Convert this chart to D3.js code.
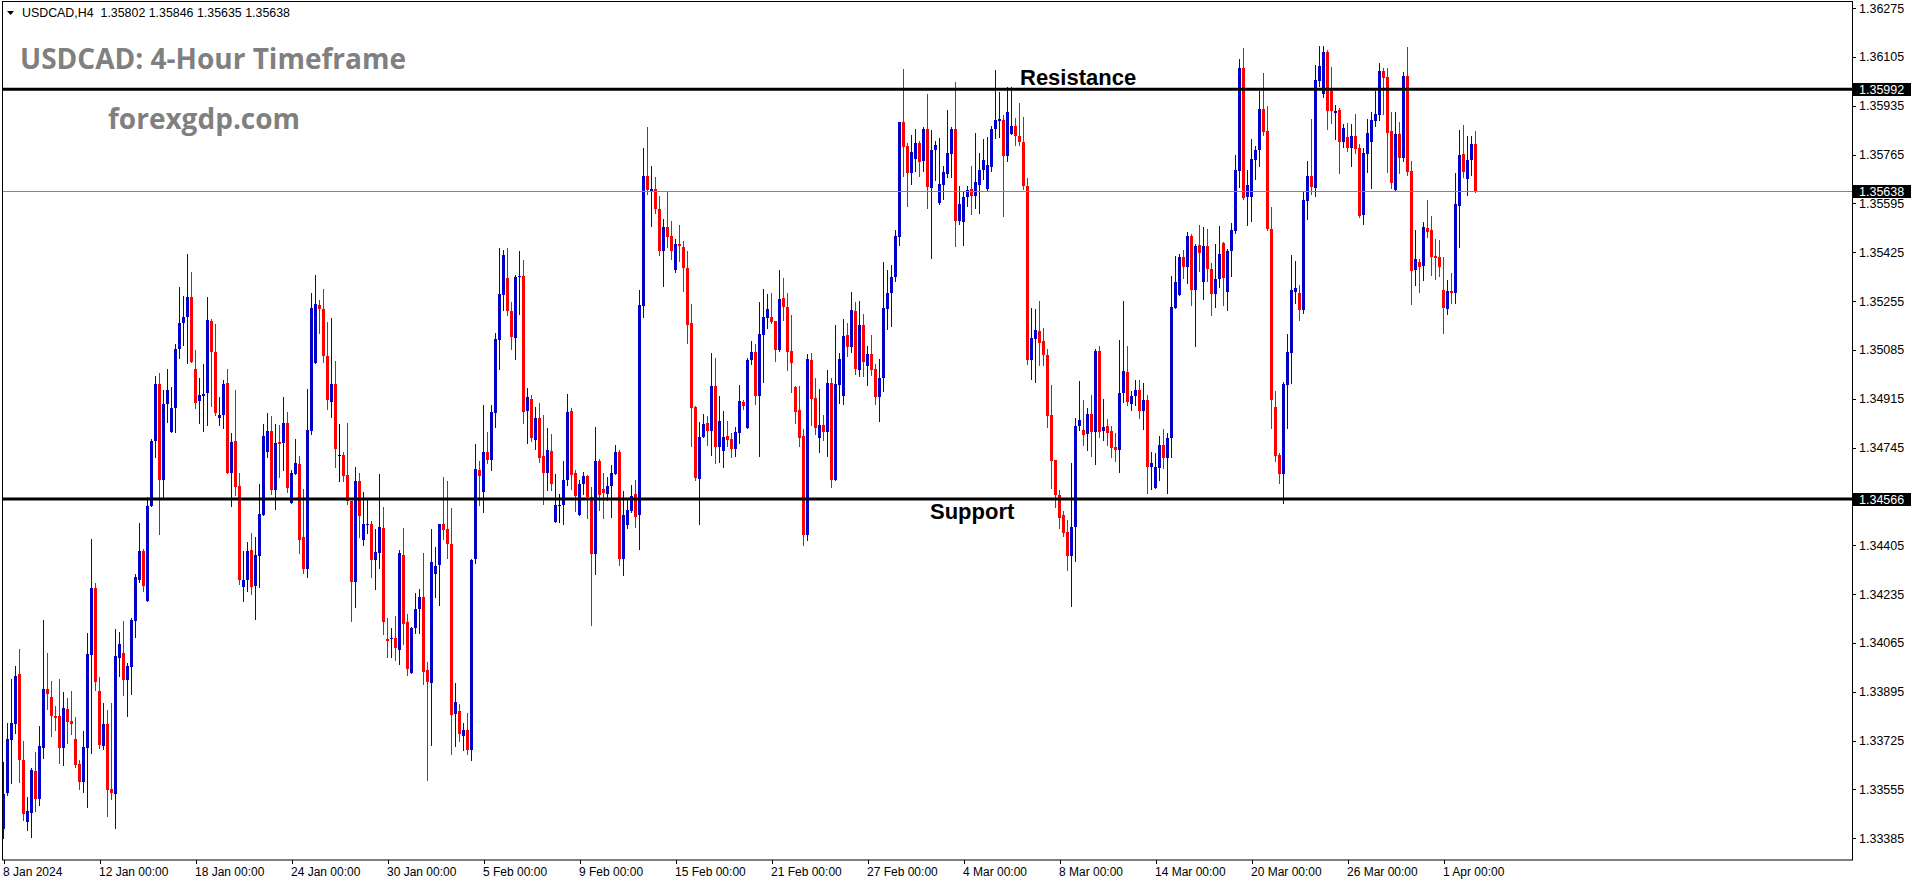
<!DOCTYPE html>
<html><head><meta charset="utf-8">
<script src="https://cdn.jsdelivr.net/npm/d3@7/dist/d3.min.js"></script>
<style>
body{margin:0;background:#fff;}
svg{display:block;}
</style>
</head><body>
<svg id="chart" width="1916" height="884"></svg>
<script>
// ---------------- data ----------------
const symbolHeader = "USDCAD,H4";
const lastQuote = [1.35802, 1.35846, 1.35635, 1.35638];
const chartTitle = "USDCAD: 4-Hour Timeframe";
const siteName = "forexgdp.com";
const resistanceLevel = 1.35992;
const supportLevel = 1.34566;
const currentPrice = 1.35638;

const opens = [1.33417,1.33543,1.33727,1.33783,1.33957,1.33657,1.33442,1.33473,1.33619,1.33522,1.33699,1.33905,1.33877,1.33811,1.33811,1.33699,1.33835,1.33793,1.33731,1.33644,1.33581,1.33699,1.34023,1.34256,1.33898,1.33706,1.33783,1.33557,1.33539,1.34012,1.34030,1.33936,1.33981,1.34141,1.34284,1.34385,1.34211,1.34542,1.34768,1.34966,1.34632,1.34897,1.34799,1.34883,1.35088,1.35179,1.35200,1.35269,1.35019,1.34907,1.34925,1.34935,1.35186,1.35078,1.34848,1.34858,1.34970,1.34657,1.34768,1.34611,1.34260,1.34284,1.34388,1.34263,1.34368,1.34510,1.34730,1.34803,1.34597,1.34764,1.34761,1.34831,1.34552,1.34653,1.34688,1.34434,1.34322,1.34803,1.35039,1.35241,1.35227,1.35064,1.34904,1.34966,1.34719,1.34719,1.34650,1.34559,1.34277,1.34629,1.34423,1.34476,1.34479,1.34354,1.34378,1.34465,1.34079,1.34079,1.34082,1.34040,1.34371,1.34138,1.33960,1.34117,1.34183,1.34225,1.33971,1.33926,1.34305,1.34336,1.34479,1.34462,1.34409,1.33818,1.33828,1.33741,1.33762,1.33692,1.34357,1.34667,1.34590,1.34730,1.34702,1.34865,1.35120,1.35276,1.35335,1.35220,1.35126,1.35339,1.35342,1.34872,1.34914,1.34771,1.34848,1.34716,1.34657,1.34733,1.34486,1.34545,1.34545,1.34632,1.34872,1.34657,1.34510,1.34618,1.34646,1.34573,1.34375,1.34698,1.34601,1.34583,1.34611,1.34653,1.34730,1.34357,1.34476,1.34524,1.34583,1.34510,1.35238,1.35690,1.35638,1.35645,1.35576,1.35429,1.35513,1.35482,1.35363,1.35454,1.35443,1.35370,1.35179,1.34886,1.34636,1.34782,1.34831,1.34803,1.34959,1.34747,1.34733,1.34785,1.34775,1.34740,1.34796,1.34904,1.34813,1.35050,1.35078,1.34925,1.35137,1.35196,1.35200,1.35186,1.35085,1.35266,1.35234,1.35081,1.34956,1.34876,1.34785,1.34441,1.35050,1.34918,1.34778,1.34824,1.34799,1.34970,1.34632,1.34963,1.34925,1.35137,1.35095,1.35220,1.35015,1.35172,1.35029,1.35071,1.35019,1.34921,1.34987,1.35227,1.35283,1.35339,1.35478,1.35878,1.35795,1.35701,1.35750,1.35805,1.35743,1.35854,1.35649,1.35781,1.35596,1.35659,1.35697,1.35767,1.35854,1.35534,1.35530,1.35617,1.35645,1.35621,1.35659,1.35711,1.35645,1.35722,1.35854,1.35882,1.35885,1.35760,1.35837,1.35864,1.35830,1.35809,1.35656,1.35050,1.35123,1.35151,1.35116,1.35067,1.34858,1.34702,1.34580,1.34510,1.34451,1.34368,1.34469,1.34820,1.34806,1.34792,1.34862,1.34799,1.35081,1.34803,1.34820,1.34803,1.34747,1.34737,1.34935,1.35008,1.34897,1.34925,1.34945,1.34872,1.34911,1.34677,1.34604,1.34674,1.34754,1.34709,1.34778,1.35231,1.35276,1.35408,1.35374,1.35482,1.35294,1.35450,1.35321,1.35447,1.35367,1.35280,1.35332,1.35457,1.35287,1.35429,1.35499,1.35708,1.36066,1.35617,1.35617,1.35746,1.35781,1.35924,1.35847,1.35506,1.34886,1.34719,1.34653,1.34963,1.35074,1.35287,1.35283,1.35224,1.35603,1.35690,1.35649,1.36021,1.35976,1.36122,1.35986,1.35910,1.35920,1.35809,1.35826,1.35788,1.35830,1.35788,1.35555,1.35767,1.35809,1.35882,1.35903,1.36056,1.36035,1.35847,1.35642,1.35837,1.35753,1.36038,1.35708,1.35363,1.35391,1.35377,1.35509,1.35502,1.35412,1.35408,1.35294,1.35227,1.35290,1.35283,1.35586,1.35767,1.35680,1.35746,1.35802];

const highs = [1.33650,1.33786,1.33939,1.33985,1.34044,1.33724,1.33529,1.33630,1.33685,1.33776,1.34145,1.34030,1.33932,1.33845,1.33939,1.33894,1.33873,1.33898,1.33807,1.33657,1.33758,1.34100,1.34427,1.34274,1.33946,1.33856,1.33832,1.33856,1.34113,1.34103,1.34141,1.33995,1.34152,1.34305,1.34482,1.34392,1.34573,1.34775,1.34994,1.35005,1.34945,1.35019,1.34956,1.35106,1.35304,1.35273,1.35419,1.35356,1.35085,1.34987,1.35036,1.35269,1.35193,1.35175,1.34921,1.34980,1.35019,1.34796,1.34945,1.34657,1.34385,1.34416,1.34448,1.34434,1.34618,1.34827,1.34865,1.34855,1.34827,1.34824,1.34921,1.34869,1.34667,1.34775,1.34716,1.34601,1.34949,1.35283,1.35346,1.35259,1.35297,1.35182,1.35196,1.35046,1.34827,1.34730,1.34831,1.34559,1.34677,1.34657,1.34590,1.34563,1.34489,1.34462,1.34653,1.34538,1.34152,1.34117,1.34159,1.34388,1.34465,1.34166,1.34120,1.34239,1.34253,1.34378,1.33999,1.34462,1.34399,1.34479,1.34643,1.34629,1.34535,1.33926,1.33852,1.33786,1.33821,1.34357,1.34757,1.34698,1.34893,1.34799,1.34893,1.35144,1.35440,1.35433,1.35440,1.35252,1.35346,1.35429,1.35398,1.34952,1.34928,1.34886,1.34900,1.34858,1.34813,1.34792,1.34653,1.34583,1.34698,1.34932,1.34883,1.34667,1.34632,1.34660,1.34650,1.34608,1.34817,1.34705,1.34657,1.34643,1.34684,1.34754,1.34737,1.34594,1.34563,1.34615,1.34632,1.35294,1.35788,1.35861,1.35725,1.35687,1.35621,1.35541,1.35635,1.35534,1.35471,1.35520,1.35464,1.35429,1.35245,1.34890,1.34834,1.34862,1.34855,1.35074,1.35057,1.34925,1.34872,1.34838,1.34796,1.34817,1.34963,1.34911,1.35057,1.35116,1.35106,1.35252,1.35297,1.35280,1.35283,1.35186,1.35363,1.35335,1.35283,1.35206,1.34959,1.34959,1.34810,1.35071,1.35074,1.34987,1.34949,1.34858,1.35015,1.34987,1.35172,1.35074,1.35193,1.35179,1.35287,1.35252,1.35255,1.35210,1.35099,1.35137,1.35036,1.35053,1.35391,1.35363,1.35381,1.35502,1.35878,1.36063,1.35805,1.35833,1.35854,1.35812,1.35861,1.35976,1.35851,1.35812,1.35823,1.35725,1.35920,1.35861,1.36018,1.35656,1.35638,1.35656,1.35725,1.35840,1.35770,1.35819,1.35826,1.35864,1.36059,1.35983,1.35903,1.36000,1.36000,1.35892,1.35945,1.35896,1.35683,1.35231,1.35227,1.35255,1.35161,1.35088,1.34963,1.34702,1.34597,1.34524,1.34493,1.34691,1.34848,1.34977,1.34911,1.34883,1.34928,1.35088,1.35099,1.34914,1.34845,1.34820,1.34796,1.35120,1.35255,1.35099,1.34942,1.34980,1.34980,1.34970,1.34928,1.34730,1.34726,1.34785,1.34810,1.34796,1.35342,1.35412,1.35419,1.35433,1.35495,1.35488,1.35454,1.35520,1.35513,1.35506,1.35388,1.35454,1.35516,1.35461,1.35436,1.35527,1.35763,1.36098,1.36136,1.35711,1.35819,1.35795,1.35986,1.36049,1.35934,1.35582,1.34942,1.34726,1.34973,1.35140,1.35415,1.35395,1.35311,1.35638,1.35743,1.35889,1.36077,1.36143,1.36143,1.36129,1.36070,1.35938,1.35927,1.35871,1.35875,1.35871,1.35906,1.35802,1.35788,1.35889,1.35913,1.35986,1.36084,1.36066,1.36066,1.35913,1.35913,1.35878,1.36052,1.36139,1.35743,1.35502,1.35401,1.35530,1.35607,1.35551,1.35471,1.35468,1.35408,1.35328,1.35353,1.35701,1.35851,1.35868,1.35830,1.35830,1.35846];

const lows = [1.33386,1.33536,1.33577,1.33751,1.33581,1.33449,1.33414,1.33389,1.33480,1.33501,1.33664,1.33835,1.33741,1.33762,1.33647,1.33640,1.33717,1.33748,1.33633,1.33557,1.33546,1.33494,1.33682,1.33901,1.33699,1.33696,1.33462,1.33522,1.33421,1.33950,1.33884,1.33811,1.33887,1.34086,1.34277,1.34246,1.34211,1.34542,1.34712,1.34444,1.34566,1.34834,1.34799,1.34799,1.35057,1.35102,1.35039,1.35043,1.34883,1.34831,1.34803,1.34824,1.34890,1.34858,1.34824,1.34813,1.34657,1.34542,1.34580,1.34270,1.34211,1.34246,1.34235,1.34148,1.34260,1.34510,1.34712,1.34583,1.34531,1.34643,1.34667,1.34590,1.34552,1.34653,1.34378,1.34308,1.34295,1.34792,1.35039,1.35144,1.35043,1.34879,1.34851,1.34677,1.34629,1.34629,1.34549,1.34141,1.34190,1.34434,1.34406,1.34448,1.34295,1.34253,1.34326,1.34096,1.34016,1.34016,1.34006,1.33992,1.34061,1.33953,1.33960,1.34100,1.34100,1.33922,1.33588,1.33710,1.34225,1.34197,1.34427,1.34361,1.33678,1.33706,1.33724,1.33692,1.33678,1.33657,1.34343,1.34545,1.34521,1.34691,1.34667,1.34817,1.35019,1.35224,1.35206,1.35088,1.35053,1.35210,1.34831,1.34761,1.34768,1.34740,1.34695,1.34549,1.34597,1.34597,1.34486,1.34486,1.34479,1.34615,1.34601,1.34524,1.34510,1.34583,1.34500,1.34127,1.34305,1.34528,1.34500,1.34563,1.34503,1.34653,1.34336,1.34301,1.34465,1.34521,1.34469,1.34392,1.35200,1.35628,1.35516,1.35562,1.35415,1.35307,1.35443,1.35401,1.35356,1.35395,1.35290,1.35109,1.34751,1.34632,1.34479,1.34782,1.34754,1.34719,1.34691,1.34695,1.34677,1.34751,1.34712,1.34716,1.34761,1.34879,1.34813,1.35036,1.34897,1.34716,1.34973,1.35161,1.35179,1.35046,1.35081,1.35189,1.35015,1.34938,1.34831,1.34751,1.34406,1.34423,1.34824,1.34792,1.34730,1.34771,1.34716,1.34608,1.34632,1.34900,1.34897,1.35064,1.35078,1.35001,1.34994,1.34994,1.34963,1.34998,1.34897,1.34838,1.34942,1.35158,1.35168,1.35325,1.35450,1.35690,1.35586,1.35663,1.35708,1.35690,1.35708,1.35579,1.35405,1.35676,1.35593,1.35610,1.35687,1.35687,1.35447,1.35523,1.35450,1.35586,1.35558,1.35579,1.35562,1.35680,1.35642,1.35708,1.35823,1.35826,1.35551,1.35743,1.35837,1.35798,1.35798,1.35645,1.35036,1.34984,1.34973,1.35032,1.35032,1.34817,1.34604,1.34538,1.34465,1.34437,1.34319,1.34194,1.34350,1.34806,1.34754,1.34737,1.34716,1.34688,1.34782,1.34771,1.34754,1.34712,1.34698,1.34660,1.34904,1.34893,1.34876,1.34893,1.34848,1.34810,1.34587,1.34601,1.34604,1.34632,1.34674,1.34587,1.34712,1.35231,1.35276,1.35335,1.35318,1.35241,1.35099,1.35360,1.35262,1.35325,1.35206,1.35234,1.35304,1.35241,1.35224,1.35342,1.35492,1.35652,1.35610,1.35520,1.35534,1.35680,1.35725,1.35833,1.35502,1.34813,1.34698,1.34622,1.34552,1.34813,1.34970,1.35248,1.35189,1.35213,1.35541,1.35628,1.35621,1.36004,1.35965,1.35854,1.35875,1.35819,1.35701,1.35791,1.35777,1.35725,1.35770,1.35548,1.35523,1.35704,1.35649,1.35864,1.35885,1.35906,1.35704,1.35649,1.35642,1.35701,1.35743,1.35694,1.35245,1.35311,1.35287,1.35328,1.35478,1.35346,1.35332,1.35342,1.35144,1.35210,1.35248,1.35248,1.35443,1.35687,1.35624,1.35694,1.35635];

const closes = [1.33539,1.33731,1.33786,1.33950,1.33657,1.33470,1.33480,1.33623,1.33522,1.33706,1.33905,1.33887,1.33811,1.33804,1.33699,1.33839,1.33790,1.33783,1.33640,1.33581,1.33703,1.34026,1.34256,1.33929,1.33710,1.33783,1.33553,1.33543,1.34020,1.34061,1.33936,1.33985,1.34145,1.34295,1.34385,1.34263,1.34542,1.34768,1.34966,1.34632,1.34897,1.34945,1.34883,1.35088,1.35179,1.35200,1.35269,1.35043,1.34900,1.34928,1.34932,1.35189,1.35078,1.34865,1.34858,1.34966,1.34657,1.34764,1.34608,1.34284,1.34284,1.34385,1.34260,1.34371,1.34514,1.34785,1.34803,1.34597,1.34761,1.34757,1.34831,1.34604,1.34657,1.34691,1.34423,1.34322,1.34806,1.35231,1.35245,1.35227,1.35064,1.34911,1.34966,1.34740,1.34719,1.34646,1.34559,1.34277,1.34629,1.34507,1.34479,1.34479,1.34354,1.34382,1.34469,1.34138,1.34072,1.34082,1.34047,1.34378,1.34131,1.33974,1.34117,1.34183,1.34225,1.33964,1.33929,1.34347,1.34333,1.34479,1.34458,1.34409,1.33814,1.33859,1.33748,1.33762,1.33692,1.34354,1.34670,1.34646,1.34730,1.34702,1.34869,1.35123,1.35280,1.35415,1.35220,1.35130,1.35339,1.35342,1.34869,1.34921,1.34778,1.34848,1.34709,1.34657,1.34737,1.34618,1.34545,1.34545,1.34632,1.34869,1.34650,1.34576,1.34618,1.34646,1.34573,1.34375,1.34698,1.34580,1.34587,1.34611,1.34657,1.34730,1.34357,1.34510,1.34528,1.34576,1.34503,1.35241,1.35690,1.35642,1.35645,1.35576,1.35429,1.35513,1.35478,1.35429,1.35454,1.35447,1.35370,1.35172,1.34883,1.34639,1.34782,1.34827,1.34803,1.34959,1.34747,1.34838,1.34782,1.34771,1.34740,1.34799,1.34907,1.34890,1.35050,1.35078,1.34925,1.35140,1.35200,1.35227,1.35182,1.35085,1.35262,1.35234,1.35078,1.35039,1.34869,1.34778,1.34441,1.35053,1.34914,1.34813,1.34824,1.34799,1.34970,1.34632,1.34966,1.35053,1.35133,1.35095,1.35224,1.35019,1.35172,1.35043,1.35071,1.35015,1.34921,1.34987,1.35231,1.35283,1.35339,1.35482,1.35878,1.35791,1.35701,1.35774,1.35805,1.35739,1.35854,1.35652,1.35781,1.35798,1.35663,1.35704,1.35770,1.35854,1.35534,1.35593,1.35617,1.35642,1.35621,1.35670,1.35711,1.35746,1.35729,1.35854,1.35885,1.35889,1.35760,1.35913,1.35864,1.35830,1.35809,1.35656,1.35050,1.35126,1.35154,1.35109,1.35067,1.34855,1.34698,1.34580,1.34500,1.34448,1.34368,1.34469,1.34820,1.34841,1.34789,1.34862,1.34799,1.35081,1.34799,1.34817,1.34796,1.34744,1.34737,1.34935,1.35012,1.34904,1.34925,1.34945,1.34872,1.34911,1.34677,1.34691,1.34677,1.34754,1.34709,1.34778,1.35234,1.35321,1.35408,1.35374,1.35482,1.35294,1.35447,1.35422,1.35447,1.35367,1.35280,1.35332,1.35419,1.35335,1.35429,1.35502,1.35711,1.36066,1.35614,1.35659,1.35750,1.35781,1.35924,1.35844,1.35506,1.34911,1.34716,1.34653,1.34966,1.35078,1.35294,1.35301,1.35224,1.35607,1.35690,1.35652,1.36025,1.36073,1.36122,1.35917,1.35917,1.35917,1.35809,1.35857,1.35788,1.35830,1.35784,1.35551,1.35770,1.35840,1.35885,1.35906,1.36056,1.36032,1.35840,1.35666,1.35837,1.35753,1.36038,1.35704,1.35360,1.35401,1.35374,1.35513,1.35495,1.35408,1.35405,1.35374,1.35231,1.35290,1.35283,1.35593,1.35763,1.35704,1.35746,1.35802,1.35638];

// time axis: candle index of each label and its text
const timeTickIndex = [0,24,48,72,96,120,144,168,192,216,240,264,288,312,336,360];
const timeTickLabels = ["8 Jan 2024","12 Jan 00:00","18 Jan 00:00","24 Jan 00:00","30 Jan 00:00","5 Feb 00:00","9 Feb 00:00","15 Feb 00:00","21 Feb 00:00","27 Feb 00:00","4 Mar 00:00","8 Mar 00:00","14 Mar 00:00","20 Mar 00:00","26 Mar 00:00","1 Apr 00:00"];
// price axis labels
const priceTicks = [1.36275,1.36105,1.35935,1.35765,1.35595,1.35425,1.35255,1.35085,1.34915,1.34745,1.34405,1.34235,1.34065,1.33895,1.33725,1.33555,1.33385];

// ---------------- drawing ----------------
const plot = {left: 2, right: 1852, top: 2, bottom: 860};
const BULL = "#0000CD", BEAR = "#FF0000", DOJI = "#000000";
const AXIS_FONT = "'Liberation Sans', Arial, sans-serif";

const svg = d3.select("#chart");
const candles = opens.map((o, i) => ({i, o, h: highs[i], l: lows[i], c: closes[i]}));

const x = d3.scaleLinear().domain([0, 1]).range([3.5, 7.5]);
const y = d3.scaleLinear().domain([1.33309, 1.36303]).range([plot.bottom, 0]);

// candles
const gC = svg.append("g").attr("shape-rendering", "crispEdges");
const colorOf = d => d.c > d.o ? BULL : (d.c < d.o ? BEAR : DOJI);
gC.selectAll("line.wick").data(candles).join("line")
  .attr("class", "wick")
  .attr("x1", d => Math.floor(x(d.i)) + 0.5)
  .attr("x2", d => Math.floor(x(d.i)) + 0.5)
  .attr("y1", d => Math.round(y(d.h)))
  .attr("y2", d => Math.round(y(d.l)) + 1)
  .attr("stroke", colorOf).attr("stroke-width", 1);
gC.selectAll("rect.body").data(candles).join("rect")
  .attr("class", "body")
  .attr("x", d => Math.floor(x(d.i)) - 1)
  .attr("width", 3)
  .attr("y", d => Math.round(y(Math.max(d.o, d.c))))
  .attr("height", d => Math.max(1, Math.round(y(Math.min(d.o, d.c))) - Math.round(y(Math.max(d.o, d.c)))))
  .attr("fill", colorOf);

// current price line
svg.append("line")
  .attr("x1", plot.left).attr("x2", plot.right)
  .attr("y1", Math.round(y(currentPrice)) + 0.5).attr("y2", Math.round(y(currentPrice)) + 0.5)
  .attr("stroke", "#778899").attr("stroke-width", 1);

// support / resistance lines
[resistanceLevel, supportLevel].forEach(v => {
  svg.append("line")
    .attr("x1", plot.left).attr("x2", plot.right)
    .attr("y1", y(v)).attr("y2", y(v))
    .attr("stroke", "#000").attr("stroke-width", 3);
});

// frame
svg.append("rect")
  .attr("x", plot.left + 0.5).attr("y", plot.top - 0.5)
  .attr("width", plot.right - plot.left).attr("height", plot.bottom - plot.top + 0.5)
  .attr("fill", "none").attr("stroke", "#000").attr("stroke-width", 1);

// right price axis
const yAxis = d3.axisRight(y).tickValues(priceTicks).tickFormat(d3.format(".5f")).tickSize(4).tickPadding(3);
const gy = svg.append("g").attr("transform", `translate(${plot.right},0)`).call(yAxis);
gy.select(".domain").remove();
gy.selectAll("text").attr("font-family", AXIS_FONT).attr("font-size", 12.5).attr("fill", "#000");
gy.selectAll("line").attr("stroke", "#000").attr("shape-rendering", "crispEdges");

// bottom time axis
const xAxis = d3.axisBottom(x).tickValues(timeTickIndex).tickFormat((d, i) => timeTickLabels[i]).tickSize(4).tickPadding(3);
const gx = svg.append("g").attr("transform", `translate(0,${plot.bottom})`).call(xAxis);
gx.select(".domain").remove();
gx.selectAll("text").attr("text-anchor", "start").attr("dx", -1)
  .attr("font-family", AXIS_FONT).attr("font-size", 12).attr("fill", "#000");
gx.selectAll("line").attr("stroke", "#000").attr("shape-rendering", "crispEdges");

// price markers on axis
[resistanceLevel, currentPrice, supportLevel].forEach(v => {
  const yy = y(v);
  svg.append("rect").attr("x", plot.right + 1).attr("y", Math.round(yy) - 6)
    .attr("width", 58).attr("height", 13).attr("fill", "#000");
  svg.append("text").attr("x", plot.right + 7).attr("y", Math.round(yy) + 4.5)
    .attr("font-family", AXIS_FONT).attr("font-size", 12.5)
    .attr("fill", "#fff").text(d3.format(".5f")(v));
});

// header
svg.append("path").attr("d", "M7,11 L14,11 L10.5,15 Z").attr("fill", "#000");
svg.append("text").attr("x", 22).attr("y", 17)
  .attr("font-family", AXIS_FONT).attr("font-size", 12.4)
  .attr("fill", "#000").style("white-space", "pre")
  .text(symbolHeader + "  " + lastQuote.map(d3.format(".5f")).join(" "));

// title & site
svg.append("text").attr("x", 20).attr("y", 69)
  .attr("font-family", "'Open Sans', sans-serif").attr("font-weight", 700).attr("font-size", 28)
  .attr("fill", "#808080").text(chartTitle);
svg.append("text").attr("x", 108).attr("y", 129)
  .attr("font-family", "'Open Sans', sans-serif").attr("font-weight", 700).attr("font-size", 28)
  .attr("fill", "#808080").text(siteName);

// level labels
svg.append("text").attr("x", 1020).attr("y", 85)
  .attr("font-family", AXIS_FONT).attr("font-weight", 700).attr("font-size", 22)
  .attr("fill", "#000").text("Resistance");
svg.append("text").attr("x", 930).attr("y", 519)
  .attr("font-family", AXIS_FONT).attr("font-weight", 700).attr("font-size", 22)
  .attr("fill", "#000").text("Support");
</script>
</body></html>
